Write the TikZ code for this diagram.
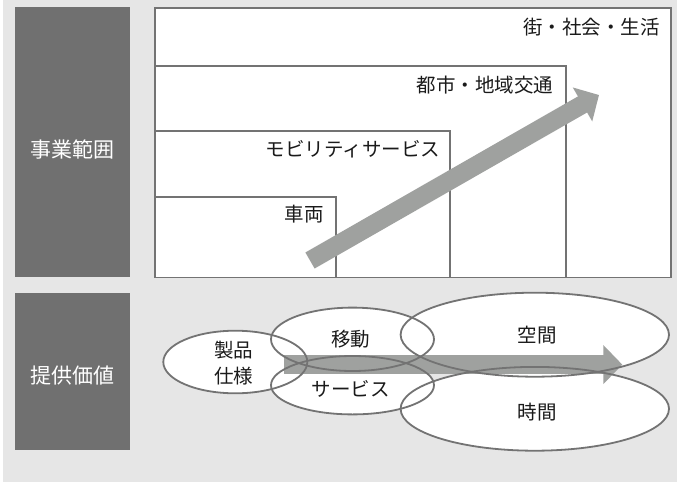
\documentclass[tikz,border=0pt]{standalone}
\usepackage{fontspec}
\setmainfont{Noto Sans CJK JP}
\usetikzlibrary{arrows.meta}
\definecolor{bggray}{HTML}{E6E6E6}
\definecolor{darkbox}{HTML}{707070}
\definecolor{framegray}{HTML}{737373}
\definecolor{arrowgray}{HTML}{9FA19F}
\definecolor{txt}{HTML}{1A1A1A}
\begin{document}
\begin{tikzpicture}[x=1pt,y=-1pt,
  frame/.style={draw=framegray, line width=1.8pt, fill=white},
  darkpanel/.style={fill=darkbox},
  paneltext/.style={text=white, font=\fontsize{21}{25}\selectfont, inner sep=0pt},
  lbl/.style={text=txt, font=\fontsize{19.5}{26}\selectfont, inner sep=0pt, text height=17.2pt, text depth=2.3pt},
  lbltwo/.style={text=txt, font=\fontsize{19.5}{26}\selectfont, inner sep=0pt, align=center},
  bigarrow/.style={draw=arrowgray, line width=18.5pt, -{Triangle[length=19pt,width=38pt]}},
  valfill/.style={fill=white},
  valline/.style={draw=framegray, line width=1.8pt},
]
\useasboundingbox (0,0) rectangle (677,482);
\fill[white] (0,0) rectangle (677,482);
\fill[bggray] (3,0) rectangle (677,482);

% left panels
\fill[darkpanel] (15,7) rectangle (130,277);
\fill[darkpanel] (15,293) rectangle (130,450);
\node[paneltext] (pscope) at (72,149.5) {事業範囲};
\node[paneltext] (pvalue) at (72.5,376) {提供価値};

% nested frames
\draw[frame] (155,8) rectangle (671,277.5);
\draw[frame] (155,66) rectangle (566,277.5);
\draw[frame] (155,131) rectangle (450,277.5);
\draw[frame] (155,197) rectangle (336,277.5);

\node[lbl, anchor=east] (lsoc) at (660,27) {街・社会・生活};
\node[lbl, anchor=east] (lcity) at (553.5,85) {都市・地域交通};
\node[lbl, anchor=east] (lmob) at (440.5,149) {モビリティサービス};
\node[lbl, anchor=east] (lveh) at (324,214.3) {車両};

\coordinate (aones) at (310,260.5);
\coordinate (aonee) at (599,95);
\draw[bigarrow] (aones) -- (aonee);

% value ellipses
\coordinate (cprod) at (235.3,362);
\coordinate (cmove) at (352.5,339.3);
\coordinate (cserv) at (352.5,385.2);
\coordinate (cspace) at (534.8,334.7);
\coordinate (ctime) at (534.8,408.8);

\fill[valfill] (cprod) ellipse [x radius=72pt, y radius=31.3pt];
\fill[valfill] (cmove) ellipse [x radius=81.5pt, y radius=31.7pt];
\fill[valfill] (cserv) ellipse [x radius=81.5pt, y radius=29.2pt];
\fill[valfill] (cspace) ellipse [x radius=134.2pt, y radius=42pt];
\fill[valfill] (ctime) ellipse [x radius=134.2pt, y radius=41.9pt];

\coordinate (atwos) at (284.3,364.6);
\coordinate (atwoe) at (622.3,364.6);
\draw[bigarrow] (atwos) -- (atwoe);

\draw[valline] (cprod) ellipse [x radius=72pt, y radius=31.3pt];
\draw[valline] (cmove) ellipse [x radius=81.5pt, y radius=31.7pt];
\draw[valline] (cserv) ellipse [x radius=81.5pt, y radius=29.2pt];
\draw[valline] (cspace) ellipse [x radius=134.2pt, y radius=42pt];
\draw[valline] (ctime) ellipse [x radius=134.2pt, y radius=41.9pt];

\node[lbltwo] (tprod) at (233.5,363) {製品\\仕様};
\node[lbl] (tmove) at (350.7,339) {移動};
\node[lbl] (tserv) at (350.7,389.3) {サービス};
\node[lbl] (tspace) at (537,335) {空間};
\node[lbl] (ttime) at (537,412.3) {時間};
\end{tikzpicture}
\end{document}
